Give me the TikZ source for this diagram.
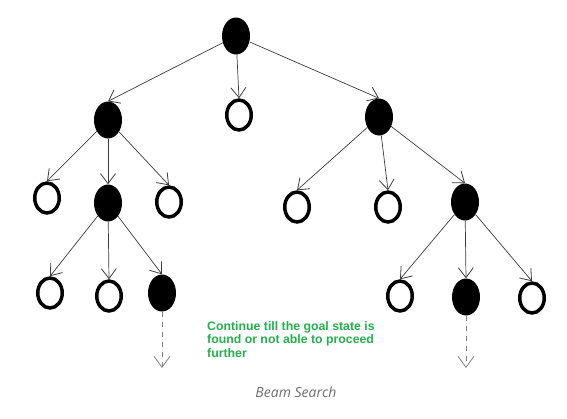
\documentclass[tikz,border=0pt]{standalone}
\usepackage{fontspec}
\setmainfont{Liberation Sans}
\newfontfamily\capfont{Open Sans}
\usetikzlibrary{shapes.geometric,arrows.meta}
\definecolor{tgreen}{RGB}{34,177,76}
\definecolor{edgegray}{RGB}{60,60,60}
\tikzset{
  full/.style={ellipse,fill=black,draw=none,minimum width=28pt,minimum height=37pt,inner sep=0pt},
  hollow/.style={ellipse,draw=black,line width=3.5pt,fill=white,minimum width=24.5pt,minimum height=30pt,inner sep=0pt},
  edge/.style={draw=edgegray,line width=0.7pt,-{Straight Barb[length=10pt,width=15pt,line width=0.8pt]}},
  dashedge/.style={draw=gray,line width=1pt,dash pattern=on 5pt off 5pt,-{Straight Barb[length=11pt,width=16pt,line width=0.8pt]}},
}
\begin{document}
\begin{tikzpicture}[x=1pt,y=-1pt]
\useasboundingbox (0,0) rectangle (567,418);
\node[full] (r) at (236,36) {};
\node[full] (a) at (108,120) {};
\node[hollow] (b) at (239,115) {};
\node[full] (c) at (379,117) {};
\node[hollow] (a1) at (47,198) {};
\node[full] (a2) at (108,203) {};
\node[hollow] (a3) at (169,202) {};
\node[hollow] (c1) at (297,207) {};
\node[hollow] (c2) at (388,207) {};
\node[full] (c3) at (465,202) {};
\node[hollow] (b1) at (50,293) {};
\node[hollow] (b2) at (109,296) {};
\node[full] (b3) at (162,293) {};
\node[hollow] (d1) at (400,296) {};
\node[full] (d2) at (466,297) {};
\node[hollow] (d3) at (532,298) {};
\coordinate (e1) at (162,368);
\coordinate (e2) at (466,368);
\path[edge] (r) -- (a.north);
\path[edge] (r) -- (b.north);
\path[edge] (r) -- (c.north);
\path[edge] (a) -- (a1.north);
\path[edge] (a) -- (a2.north);
\path[edge] (a) -- (a3.north);
\path[edge] (c) -- (c1.north);
\path[edge] (c) -- (c2.north);
\path[edge] (c) -- (c3.north);
\path[edge] (a2) -- (b1.north);
\path[edge] (a2) -- (b2.north);
\path[edge] (a2) -- (b3.north);
\path[edge] (c3) -- (d1.north);
\path[edge] (c3) -- (d2.north);
\path[edge] (c3) -- (d3.north);
\path[dashedge] (b3.south) -- (e1);
\path[dashedge] (d2.south) -- (e2);
\node[anchor=north west,align=left,text=tgreen,font=\bfseries\fontsize{12.3}{13.5}\selectfont,inner sep=0pt] (t) at (207,321) {Continue till the goal state is\\found or not able to proceed\\further};
\node[text={rgb,255:red,110;green,110;blue,110},font=\capfont\itshape\fontsize{14}{16}\selectfont,inner sep=0pt] (cap) at (296,392) {Beam Search};
\end{tikzpicture}
\end{document}
